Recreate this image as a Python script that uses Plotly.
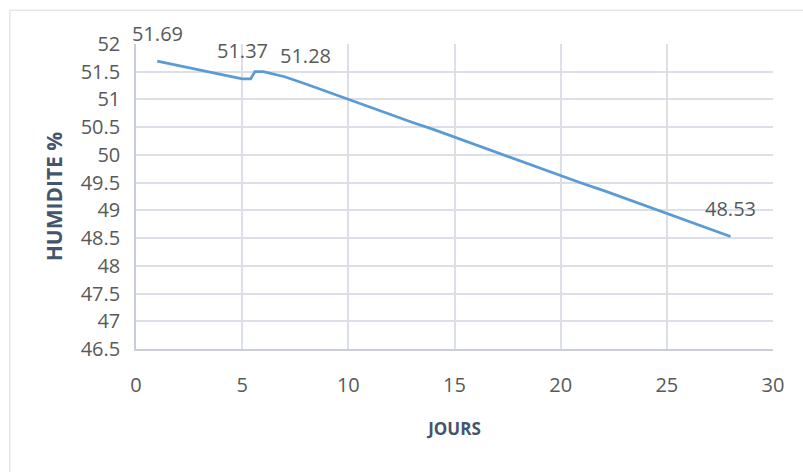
import plotly.graph_objects as go

# Humidity readings (%) per day
jours = [1, 2, 3, 4, 5, 5.4, 5.6, 6, 7, 8, 9, 10, 11, 12, 13, 14, 15, 16, 17,
         18, 19, 20, 21, 22, 23, 24, 25, 26, 27, 28]
humidite = [51.69, 51.61, 51.53, 51.45, 51.37, 51.37, 51.50, 51.50, 51.41, 51.28,
            51.14, 51.01, 50.87, 50.73, 50.59, 50.46, 50.32, 50.18, 50.04,
            49.91, 49.77, 49.63, 49.49, 49.36, 49.22, 49.08, 48.94, 48.81,
            48.67, 48.53]

# Points whose values are written on the chart
label_jours = [1, 5, 8, 28]
label_vals = [51.69, 51.37, 51.28, 48.53]

x_ticks = [0, 5, 10, 15, 20, 25, 30]
y_ticks = [46.5, 47, 47.5, 48, 48.5, 49, 49.5, 50, 50.5, 51, 51.5, 52]

FONT = "Open Sans"
TXT = "#595959"
TITLE = "#44546A"
GRID = "#DCDFE7"

fig = go.Figure()
fig.add_trace(go.Scatter(
    x=jours, y=humidite, mode="lines",
    line=dict(color="#5B9BD5", width=2.75),
    hoverinfo="skip", showlegend=False,
))

for xv, yv in zip(label_jours, label_vals):
    fig.add_annotation(
        x=xv, y=yv, text=f"{yv:.2f}", showarrow=False, yshift=28,
        font=dict(family=FONT, size=20, color=TXT),
    )

# Thin frame around the chart area
fig.add_shape(type="line", xref="paper", yref="paper",
              x0=-0.198, x1=1.1, y0=1.111, y1=1.111,
              line=dict(color="#D9D9D9", width=1))
fig.add_shape(type="line", xref="paper", yref="paper",
              x0=-0.198, x1=-0.198, y0=1.111, y1=-0.5,
              line=dict(color="#D9D9D9", width=1))

fig.update_layout(
    width=803, height=472,
    margin=dict(l=136, r=30, t=44, b=123),
    paper_bgcolor="white", plot_bgcolor="white",
    font=dict(family=FONT, color=TXT),
    xaxis=dict(
        range=[0, 30], tickvals=x_ticks, ticktext=[str(v) for v in x_ticks],
        showgrid=True, gridcolor=GRID, gridwidth=1.5,
        showline=True, linecolor="#C9CDD6", linewidth=1.5,
        zeroline=False, ticks="", ticklabelstandoff=17,
        tickfont=dict(family=FONT, size=20, color=TXT),
        title=dict(text="<b>JOURS</b>", standoff=26,
                   font=dict(family=FONT, size=17, color=TITLE)),
    ),
    yaxis=dict(
        range=[46.5, 52], tickvals=y_ticks,
        ticktext=[f"{v:g}" for v in y_ticks],
        showgrid=True, gridcolor=GRID, gridwidth=1.5,
        showline=True, linecolor="#C9CDD6", linewidth=1.5,
        zeroline=False, ticks="", ticklabelstandoff=10,
        tickfont=dict(family=FONT, size=20, color=TXT),
        title=dict(text="<b>HUMIDITE %</b>", standoff=12,
                   font=dict(family=FONT, size=21, color=TITLE)),
    ),
)

fig.write_html("out.html")
